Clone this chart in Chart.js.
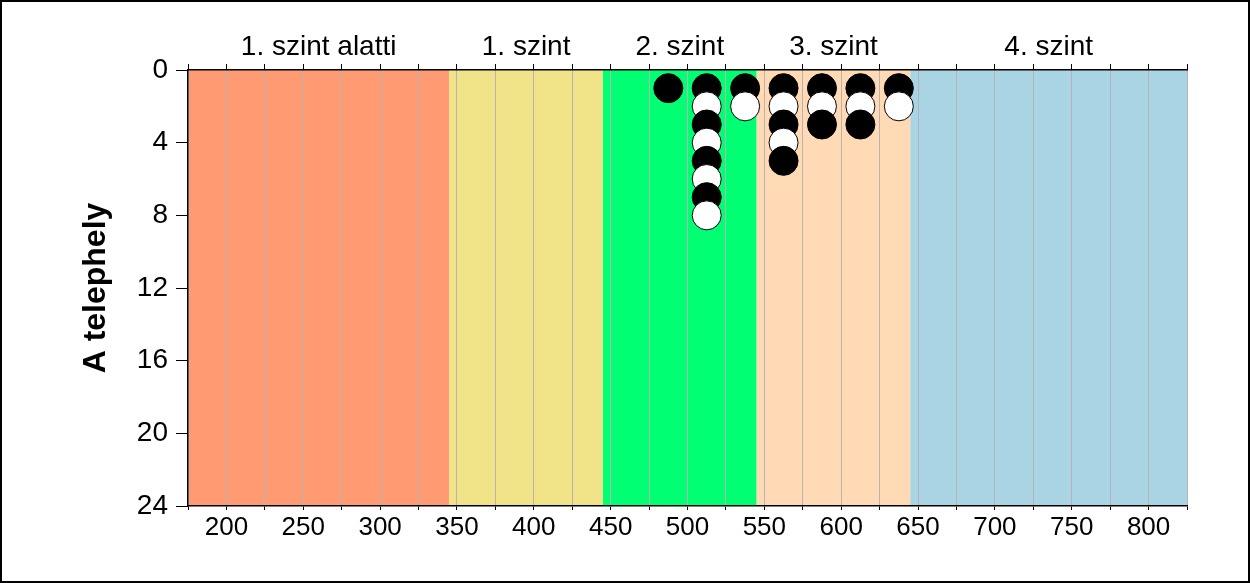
<!DOCTYPE html>
<html>
<head>
<meta charset="utf-8">
<script src="https://cdn.jsdelivr.net/npm/chart.js@4/dist/chart.umd.min.js"></script>
<style>
  body { margin: 0; background: #fff; }
  canvas { display: block; }
</style>
</head>
<body>
<canvas id="chart" width="1250" height="583"></canvas>
<script>
// score bands along the x axis
const bandNames = ['1. szint alatti', '1. szint', '2. szint', '3. szint', '4. szint'];
const bandStart = [175, 345, 445, 545, 645];
const bandEnd = [345, 445, 545, 645, 825];
const bandColors = ['#FF9A72', '#F0E388', '#00FF73', '#FFDAB4', '#A8D4E4'];

// dots: x = score bin centre, y = position in the stack, fill B/W
const dotX = [487.5,
    512.5, 512.5, 512.5, 512.5, 512.5, 512.5, 512.5, 512.5,
    537.5, 537.5,
    562.5, 562.5, 562.5, 562.5, 562.5,
    587.5, 587.5, 587.5,
    612.5, 612.5, 612.5,
    637.5, 637.5];
const dotY = [1,
    1, 2, 3, 4, 5, 6, 7, 8,
    1, 2,
    1, 2, 3, 4, 5,
    1, 2, 3,
    1, 2, 3,
    1, 2];
const dotFill = ['B',
    'B', 'W', 'B', 'W', 'B', 'W', 'B', 'W',
    'B', 'W',
    'B', 'W', 'B', 'W', 'B',
    'B', 'W', 'B',
    'B', 'W', 'B',
    'B', 'W'];

const xMin = 175, xMax = 825, xStep = 25;
const yMin = 0, yMax = 24, yStep = 4;
const yTitle = 'A telephely';

const FONT = "'Liberation Sans', Arial, sans-serif";

const points = dotX.map((x, i) => ({ x: x, y: dotY[i] }));

const bandPlugin = {
    id: 'bands',
    beforeDraw(chart) {
        const ctx = chart.ctx;
        const xs = chart.scales.x;
        const area = chart.chartArea;
        ctx.save();
        for (let i = 0; i < bandNames.length; i++) {
            const x0 = xs.getPixelForValue(bandStart[i]);
            const x1 = xs.getPixelForValue(bandEnd[i]);
            ctx.fillStyle = bandColors[i];
            ctx.fillRect(x0, area.top, x1 - x0, area.bottom - area.top);
        }
        ctx.restore();
    },
    afterDraw(chart) {
        const ctx = chart.ctx;
        const xs = chart.scales.x;
        const area = chart.chartArea;
        ctx.save();
        ctx.fillStyle = '#000';
        ctx.font = '28px ' + FONT;
        ctx.textAlign = 'center';
        ctx.textBaseline = 'alphabetic';
        for (let i = 0; i < bandNames.length; i++) {
            const cx = xs.getPixelForValue((bandStart[i] + bandEnd[i]) / 2);
            ctx.fillText(bandNames[i], cx, 55);
        }
        // y axis title
        ctx.translate(96, (area.top + area.bottom) / 2);
        ctx.rotate(-Math.PI / 2);
        ctx.font = 'bold 32px ' + FONT;
        ctx.textBaseline = 'middle';
        ctx.fillText(yTitle, 0, 0);
        ctx.restore();
        // outer frame
        ctx.save();
        ctx.strokeStyle = '#000';
        ctx.lineWidth = 2;
        ctx.strokeRect(1, 1, chart.width - 2, chart.height - 2);
        ctx.restore();
    }
};

new Chart(document.getElementById('chart'), {
    type: 'scatter',
    data: {
        datasets: [{
            data: points,
            pointRadius: 14.5,
            pointHoverRadius: 14.5,
            pointBorderWidth: 1,
            pointBorderColor: '#000',
            pointBackgroundColor: dotFill.map(f => f === 'B' ? '#000' : '#fff'),
            clip: false
        }]
    },
    options: {
        responsive: false,
        devicePixelRatio: 1,
        animation: false,
        layout: { padding: { left: 0, right: 63, top: 0, bottom: 0 } },
        plugins: {
            legend: { display: false },
            tooltip: { enabled: false }
        },
        scales: {
            x: {
                type: 'linear',
                position: 'bottom',
                min: xMin,
                max: xMax,
                afterFit(scale) { scale.height = 77; },
                grid: {
                    color: '#B4B4B4',
                    lineWidth: 1,
                    tickColor: '#000',
                    tickLength: 4
                },
                border: { color: '#000', width: 1.5 },
                ticks: {
                    stepSize: xStep,
                    autoSkip: false,
                    maxRotation: 0,
                    padding: 2,
                    color: '#000',
                    font: { family: FONT, size: 26 },
                    callback: v => (v % 50 === 0 ? v : '')
                }
            },
            x2: {
                type: 'linear',
                position: 'top',
                min: xMin,
                max: xMax,
                afterFit(scale) { scale.height = 70; },
                grid: {
                    drawOnChartArea: false,
                    tickColor: '#000',
                    tickLength: 6
                },
                border: { color: '#000', width: 1.5 },
                ticks: {
                    stepSize: xStep,
                    autoSkip: false,
                    maxRotation: 0,
                    padding: 0,
                    font: { family: FONT, size: 10 },
                    callback: () => ''
                }
            },
            y: {
                type: 'linear',
                reverse: true,
                min: yMin,
                max: yMax,
                afterFit(scale) { scale.width = 188; },
                grid: {
                    drawOnChartArea: false,
                    tickColor: '#000',
                    tickLength: 12
                },
                border: { color: '#000', width: 1.5 },
                ticks: {
                    stepSize: yStep,
                    padding: 8,
                    color: '#000',
                    font: { family: FONT, size: 28 }
                }
            }
        }
    },
    plugins: [bandPlugin]
});
</script>
</body>
</html>
